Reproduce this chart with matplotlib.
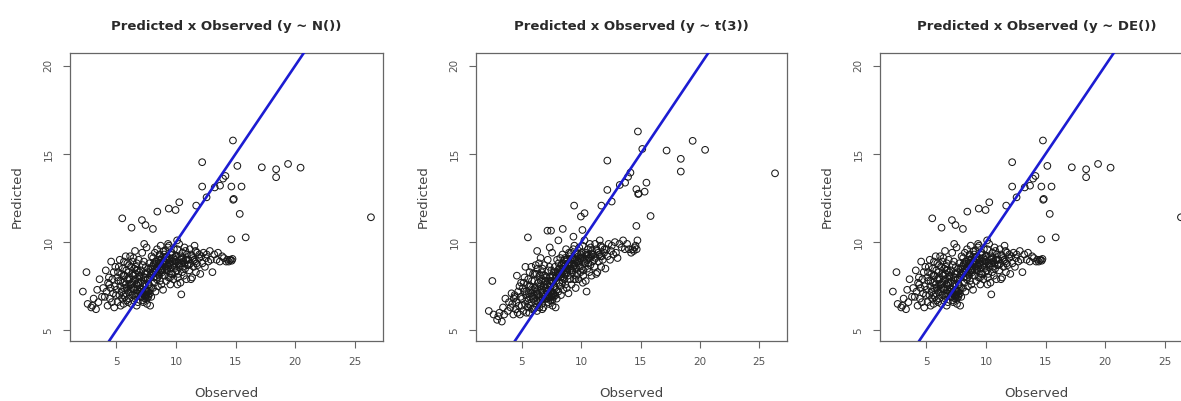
import matplotlib
matplotlib.use("Agg")
import matplotlib.pyplot as plt

# observed response, shared by all three fits
observed = [
    # 2 - 5
    2.2, 2.5, 2.6, 2.9,
    3.0, 3.1, 3.3, 3.4, 3.5, 3.6, 3.8, 3.9,
    4.03, 4.12, 4.18, 4.27, 4.31, 4.38, 4.46, 4.52, 4.57, 4.63,
    4.68, 4.74, 4.79, 4.83, 4.88, 4.92, 4.97, 4.41,
    # 5 - 6
    5.02, 5.08, 5.11, 5.17, 5.21, 5.26, 5.29, 5.33, 5.37, 5.42,
    5.44, 5.49, 5.53, 5.56, 5.61, 5.64, 5.66, 5.71, 5.73, 5.77,
    5.81, 5.84, 5.87, 5.91, 5.93, 5.97, 5.99, 5.14, 5.58, 5.79,
    # 6 - 7
    6.01, 6.04, 6.09, 6.13, 6.16, 6.19, 6.23, 6.27, 6.31, 6.33,
    6.37, 6.39, 6.42, 6.47, 6.51, 6.53, 6.57, 6.59, 6.62, 6.66,
    6.68, 6.72, 6.74, 6.78, 6.81, 6.86, 6.88, 6.92, 6.96, 6.07,
    6.21, 6.44, 6.49, 6.63, 6.71, 6.83, 6.94, 6.29,
    # 7 - 8
    7.02, 7.06, 7.09, 7.13, 7.17, 7.19, 7.22, 7.26, 7.28, 7.32,
    7.36, 7.38, 7.41, 7.44, 7.48, 7.52, 7.54, 7.58, 7.61, 7.64,
    7.67, 7.69, 7.73, 7.77, 7.82, 7.84, 7.88, 7.91, 7.96, 7.04,
    7.23, 7.43, 7.47, 7.56, 7.63, 7.79, 7.34, 7.51, 7.62, 7.93,
    # 8 - 9
    8.02, 8.07, 8.09, 8.13, 8.17, 8.19, 8.23, 8.26, 8.29, 8.33,
    8.36, 8.39, 8.42, 8.47, 8.49, 8.53, 8.56, 8.59, 8.63, 8.66,
    8.69, 8.72, 8.76, 8.78, 8.83, 8.86, 8.88, 8.92, 8.97, 8.21,
    8.44, 8.61, 8.81, 8.52,
    # 9 - 10
    9.03, 9.06, 9.12, 9.14, 9.18, 9.23, 9.28, 9.33, 9.38, 9.44,
    9.48, 9.53, 9.57, 9.62, 9.68, 9.73, 9.78, 9.83, 9.88, 9.94,
    9.09, 9.31, 9.51, 9.71, 9.92, 9.21, 9.42, 9.59, 9.81, 9.01,
    # 10 - 11
    10.02, 10.07, 10.11, 10.16, 10.22, 10.27, 10.33, 10.38, 10.46, 10.52,
    10.57, 10.62, 10.67, 10.72, 10.77, 10.83, 10.87, 10.91, 10.96, 10.19,
    10.42, 10.58, 10.79, 10.13,
    # 11 - 15
    11.04, 11.12, 11.17, 11.22, 11.28, 11.36, 11.43, 11.48, 11.56, 11.61,
    11.68, 11.77, 11.82, 11.93, 11.26, 11.64,
    12.04, 12.13, 12.22, 12.31, 12.43, 12.52, 12.58, 12.71, 12.84, 12.93,
    13.06, 13.22, 13.41, 13.53, 13.68, 13.87,
    14.02, 14.21, 14.33, 14.42, 14.51, 14.58, 14.68, 14.74,
    # core, second pass
    5.35, 5.62, 5.88, 6.06, 6.24, 6.36, 6.48, 6.58, 6.69, 6.77,
    6.87, 6.98, 7.08, 7.16, 7.24, 7.31, 7.37, 7.46, 7.53, 7.57,
    7.66, 7.72, 7.78, 7.86, 7.94, 8.04, 8.11, 8.27, 8.38, 8.46,
    8.57, 8.68, 8.74, 8.87, 8.94, 9.07, 9.16, 9.27, 9.36, 9.46,
    9.55, 9.66, 9.76, 9.86, 9.97, 10.08, 10.24, 10.36, 10.48, 10.63,
    10.74, 10.89, 11.08, 11.33, 11.52, 11.73, 11.96, 7.14, 7.39, 7.68,
    # scattered
    14.78, 12.2, 15.15, 17.2, 18.4, 18.4, 19.4, 20.45, 26.35, 12.2,
    13.7, 13.25, 14.15, 13.95, 14.65, 15.5, 14.8, 15.35, 14.85, 15.85,
    14.65, 12.57, 11.7, 10.28, 9.97, 9.4, 8.44, 5.5, 6.28, 7.15,
    7.45, 8.07, 10.1, 9.34, 10.45,
]

# predictions, normal response
pred_normal = [
    7.2, 8.3, 6.5, 6.3,
    6.4, 6.8, 6.2, 7.3, 6.6, 7.9, 6.9, 7.4,
    6.9, 8.4, 7.2, 6.4, 7.7, 8.0, 6.8, 7.4, 8.9, 6.6,
    7.9, 7.1, 8.3, 6.3, 7.5, 8.6, 7.0, 7.6,
    7.3, 8.0, 6.6, 7.8, 8.6, 7.0, 9.0, 7.5, 6.4, 8.2,
    7.2, 6.8, 8.5, 7.7, 6.5, 8.9, 7.4, 6.9, 8.1, 7.6,
    7.1, 8.4, 6.7, 7.9, 8.8, 7.3, 6.6, 8.3, 7.0, 9.2,
    7.5, 8.3, 6.8, 7.9, 9.2, 7.2, 8.6, 6.5, 7.7, 8.9,
    7.0, 8.1, 7.4, 6.7, 8.5, 7.8, 9.5, 7.1, 8.2, 6.9,
    7.6, 8.8, 7.3, 8.4, 6.6, 7.9, 9.0, 7.2, 8.0, 8.7,
    7.6, 9.1, 7.0, 8.6, 6.4, 7.7, 8.3, 7.4,
    7.2, 8.4, 6.9, 7.8, 9.4, 7.1, 8.7, 6.6, 7.5, 8.9,
    7.0, 8.2, 6.8, 7.3, 8.6, 7.0, 9.7, 6.5, 7.9, 7.2,
    8.5, 6.9, 7.6, 8.8, 7.1, 6.4, 8.1, 7.4, 9.2, 7.7,
    6.7, 8.0, 7.3, 6.8, 7.9, 7.5, 9.9, 7.1, 8.3, 6.9,
    8.6, 7.4, 9.1, 8.0, 8.8, 7.7, 9.4, 8.3, 7.2, 8.9,
    8.5, 7.9, 9.6, 8.2, 7.5, 9.0, 8.7, 8.1, 9.3, 7.8,
    8.4, 9.8, 8.6, 7.6, 9.1, 8.3, 8.8, 7.3, 9.5, 8.5,
    8.0, 9.2, 8.4, 8.8,
    8.9, 8.1, 9.5, 8.6, 7.8, 9.2, 8.4, 9.7, 8.0, 8.8,
    9.0, 7.6, 8.5, 9.4, 8.2, 8.9, 7.9, 9.6, 8.6, 8.3,
    9.1, 8.7, 8.0, 9.3, 9.0, 8.5, 9.8, 8.2, 8.7, 9.3,
    9.2, 8.4, 9.6, 8.0, 8.8, 9.9, 8.6, 7.7, 9.1, 8.3,
    9.4, 8.9, 8.1, 9.7, 8.5, 9.0, 7.9, 9.3, 8.7, 8.2,
    9.0, 8.6, 9.5, 7.6,
    9.0, 8.4, 9.6, 8.8, 9.3, 8.0, 9.1, 8.6, 9.8, 8.9,
    8.3, 9.4, 8.7, 9.1, 7.9, 9.5,
    8.2, 9.2, 8.8, 9.4, 8.6, 9.1, 9.3, 8.9, 9.5, 9.0,
    8.3, 9.3, 9.0, 9.4, 8.9, 9.2,
    9.1, 8.9, 9.0, 8.9, 9.0, 9.0, 8.95, 9.05,
    7.8, 8.1, 7.4, 8.0, 7.6, 8.2, 7.3, 7.9, 8.4, 7.1,
    7.7, 8.1, 7.4, 6.9, 7.2, 8.0, 7.0, 6.9, 7.3, 8.2,
    7.0, 7.6, 8.0, 8.5, 8.2, 8.3, 8.7, 8.4, 8.9, 8.6,
    8.3, 8.8, 9.0, 8.5, 8.9, 8.4, 8.8, 9.0, 8.6, 9.1,
    8.7, 8.9, 9.1, 8.8, 9.2, 8.9, 8.7, 9.2, 8.8, 9.1,
    8.8, 9.0, 8.7, 9.2, 9.0, 8.8, 9.3, 7.3, 7.6, 7.2,
    15.76, 14.53, 14.32, 14.24, 14.13, 13.68, 14.43, 14.22, 11.41, 13.15,
    13.2, 13.1, 13.75, 13.6, 13.15, 13.15, 12.4, 11.6, 12.45, 10.27,
    10.16, 12.54, 12.07, 12.26, 11.82, 11.9, 11.73, 11.35, 10.82, 11.25,
    10.97, 10.75, 10.1, 9.9, 7.04,
]

# predictions, t(3) response
pred_t = [
    6.1, 7.8, 5.9, 5.6,
    5.8, 6.0, 5.5, 6.3, 5.9, 6.8, 6.1, 6.6,
    6.3, 7.1, 6.5, 5.9, 6.8, 7.0, 6.2, 6.6, 8.1, 6.0,
    7.2, 6.4, 7.5, 5.9, 6.9, 7.7, 6.4, 6.9,
    6.8, 7.4, 6.1, 7.2, 8.0, 6.5, 8.6, 7.0, 6.0, 7.6,
    6.7, 6.3, 7.9, 7.1, 6.0, 8.3, 6.9, 6.4, 7.5, 7.1,
    6.6, 7.8, 6.2, 7.3, 8.2, 6.8, 6.2, 7.7, 6.5, 8.6,
    7.0, 7.8, 6.3, 7.4, 8.7, 6.7, 8.2, 6.1, 7.3, 8.5,
    6.6, 7.7, 7.0, 6.3, 8.1, 7.5, 9.1, 6.7, 7.8, 6.5,
    7.3, 8.5, 7.0, 8.1, 6.3, 7.6, 8.7, 6.9, 7.8, 8.2,
    7.2, 8.8, 6.7, 8.3, 6.2, 7.5, 8.1, 7.0,
    7.0, 8.0, 6.8, 7.6, 9.0, 6.9, 8.4, 6.5, 7.3, 8.6,
    6.9, 8.0, 6.7, 7.2, 8.4, 6.9, 9.4, 6.4, 7.7, 7.1,
    8.3, 6.9, 7.5, 8.6, 7.0, 6.3, 8.0, 7.3, 9.0, 7.4,
    6.6, 7.8, 7.2, 6.7, 7.8, 7.4, 9.7, 7.0, 8.1, 6.8,
    8.3, 7.2, 8.8, 7.7, 8.5, 7.5, 9.1, 8.0, 7.0, 8.7,
    8.2, 7.7, 9.3, 8.0, 7.3, 8.8, 8.5, 7.9, 9.1, 7.6,
    8.2, 9.6, 8.4, 7.4, 9.0, 8.1, 8.7, 7.1, 9.4, 8.2,
    7.8, 9.0, 8.3, 8.6,
    8.8, 7.9, 9.4, 8.5, 7.6, 9.1, 8.3, 9.6, 7.9, 8.7,
    9.0, 7.4, 8.5, 9.4, 8.2, 8.9, 7.9, 9.7, 8.6, 8.3,
    9.0, 8.6, 7.9, 9.3, 9.1, 8.4, 9.8, 8.1, 8.7, 9.2,
    9.4, 8.5, 9.8, 8.1, 9.0, 10.1, 8.8, 7.8, 9.3, 8.5,
    9.6, 9.1, 8.3, 9.9, 8.7, 9.2, 8.1, 9.5, 8.9, 8.4,
    9.2, 8.8, 9.7, 7.7,
    9.3, 8.6, 9.9, 9.1, 9.6, 8.3, 9.4, 8.9, 10.1, 9.2,
    8.6, 9.7, 9.0, 9.4, 8.2, 9.8,
    8.5, 9.6, 9.2, 9.9, 9.0, 9.5, 9.8, 9.3, 10.0, 9.4,
    9.1, 9.9, 9.7, 10.1, 9.6, 9.9,
    9.6, 9.4, 9.6, 9.5, 9.7, 9.8, 9.6, 10.1,
    7.2, 7.5, 6.9, 7.4, 7.1, 7.7, 6.9, 7.5, 7.9, 6.8,
    7.4, 7.8, 7.2, 6.8, 7.0, 7.8, 6.9, 6.9, 7.2, 8.0,
    7.0, 7.5, 7.9, 8.3, 8.1, 8.2, 8.5, 8.3, 8.7, 8.5,
    8.2, 8.7, 8.9, 8.5, 8.8, 8.4, 8.8, 9.0, 8.6, 9.1,
    8.8, 9.0, 9.2, 8.9, 9.3, 9.1, 8.9, 9.4, 9.0, 9.3,
    9.1, 9.3, 9.0, 9.5, 9.3, 9.2, 9.6, 7.2, 7.5, 7.1,
    16.27, 14.62, 15.28, 15.19, 14.72, 14.0, 15.74, 15.23, 13.9, 12.96,
    13.37, 13.24, 13.94, 13.7, 13.0, 13.37, 12.73, 12.86, 12.75, 11.48,
    10.92, 12.3, 12.07, 11.64, 11.45, 12.07, 10.75, 10.27, 9.5, 10.65,
    10.65, 10.1, 10.69, 10.31, 7.2,
]

# the DE fit lands on the same predictions as the normal fit
pred_de = list(pred_normal)

titles = [
    "Predicted x Observed (y ~ N())",
    "Predicted x Observed (y ~ t(3))",
    "Predicted x Observed (y ~ DE())",
]
x_ticks = [5, 10, 15, 20, 25]
y_ticks = [5, 10, 15, 20]

W, H = 1181, 401
# axes boxes in pixels: left, top, width, height
boxes = [(70, 53.3, 313, 287.5), (476, 53.3, 311, 287.5), (880, 53.3, 313, 287.5)]


def draw_panel(ax, obs, pred, title):
    ax.scatter(obs, pred, s=23, facecolors="none", edgecolors="#1a1a1a", linewidths=0.75, zorder=2)
    ax.axline((0, 0), slope=1, color="#1c1cd2", lw=1.9, zorder=3)

    ax.set_xlim(1.12, 27.36)
    ax.set_ylim(4.41, 20.70)
    ax.set_xticks(x_ticks)
    ax.set_yticks(y_ticks)

    ax.set_title(title, fontsize=9.5, fontweight="bold", color="#2a2a2a", pad=16.5)
    ax.set_xlabel("Observed", fontsize=9.5, color="#444444", labelpad=14)
    ax.set_ylabel("Predicted", fontsize=9.5, color="#444444", labelpad=14)

    ax.tick_params(length=5, width=0.8, color="#666666", labelsize=7.5, labelcolor="#555555")
    ax.tick_params(axis="x", pad=7)
    ax.tick_params(axis="y", pad=7, labelrotation=90)
    for lab in ax.get_yticklabels():
        lab.set_va("center")

    for spine in ax.spines.values():
        spine.set_color("#666666")
        spine.set_linewidth(0.9)


fig = plt.figure(figsize=(W / 100, H / 100), dpi=100)

for (left, top, w, h), pred, title in zip(boxes, [pred_normal, pred_t, pred_de], titles):
    ax = fig.add_axes([left / W, (H - top - h) / H, w / W, h / H])
    draw_panel(ax, observed, pred, title)

fig.savefig("out.png", dpi=100, facecolor="white")
